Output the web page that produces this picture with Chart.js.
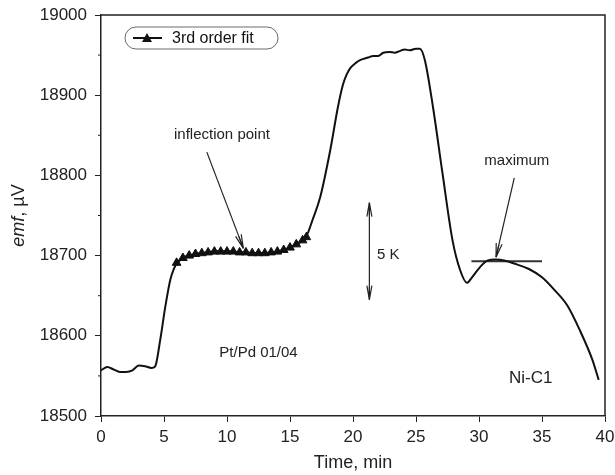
<!DOCTYPE html>
<html>
<head>
<meta charset="utf-8">
<title>emf vs time</title>
<script src="https://cdn.jsdelivr.net/npm/chart.js@4"></script>
<style>
    body { margin: 0; background: #fff; }
    #wrap { width: 615px; height: 475px; }
</style>
</head>
<body>
<div id="wrap"><canvas id="emfChart" width="615" height="475"></canvas></div>
<script>
/* ==========================================
   Data
   ========================================== */

// measured curve
const timeMin = [0, 0.5, 1, 1.5, 2, 2.5, 3, 3.5, 4, 4.3, 4.7, 5.1, 5.5, 5.8, 6, 6.5, 7, 8, 9, 10, 11, 12, 13, 14, 15, 15.5, 16, 16.3, 16.8, 17.4, 18.2, 18.8, 19.2, 19.5, 19.8, 20.2, 20.6, 21.2, 21.6, 22, 22.4, 22.9, 23.3, 23.7, 24.1, 24.5, 25, 25.3, 25.7, 26.35, 27.1, 27.9, 28.5, 29.05, 29.4, 30.1, 30.7, 31.3, 32, 33, 34, 35, 36, 37, 38, 39, 39.5];
const emfMicroV = [18557, 18561, 18558, 18555, 18555, 18557, 18563, 18562, 18560, 18562, 18595, 18636, 18670, 18684, 18690, 18697, 18700, 18703, 18705, 18705, 18704, 18703, 18703, 18705, 18710, 18714, 18719, 18724, 18745, 18773, 18832, 18885, 18913, 18926, 18934, 18940, 18944, 18947, 18949, 18949, 18953, 18954, 18953, 18955, 18957, 18956, 18958, 18958, 18944, 18885, 18803, 18719, 18682, 18666, 18672, 18686, 18694, 18695, 18694, 18689, 18683, 18673, 18657, 18638, 18607, 18570, 18545];

// 3rd order fit (markers)
const fitTime = [6, 6.5, 7, 7.5, 8, 8.5, 9, 9.5, 10, 10.5, 11, 11.5, 12, 12.5, 13, 13.5, 14, 14.5, 15, 15.5, 16, 16.3];
const fitEmf = [18691, 18697, 18700, 18702, 18703, 18704, 18705, 18705, 18705, 18705, 18704, 18704, 18703, 18703, 18703, 18704, 18705, 18707, 18710, 18714, 18719, 18723];

// tangent at the maximum
const tangentTime = [29.4, 35];
const tangentEmf = [18693, 18693];

// axes
const xTicks = [0, 5, 10, 15, 20, 25, 30, 35, 40];
const yTicks = [18500, 18600, 18700, 18800, 18900, 19000];
const yMinorTicks = [18550, 18650, 18750, 18850, 18950];

const FONT = "'Liberation Sans', Arial, sans-serif";

// build {x,y} pairs
function pairs(xs, ys) {
    return xs.map((x, i) => ({ x: x, y: ys[i] }));
}

/* ==========================================
   Annotations (in data units)
   ========================================== */

function arrowHead(ctx, x1, y1, x2, y2, len, half) {
    const a = Math.atan2(y2 - y1, x2 - x1);
    ctx.beginPath();
    ctx.moveTo(x2, y2);
    ctx.lineTo(x2 - len * Math.cos(a) + half * Math.sin(a), y2 - len * Math.sin(a) - half * Math.cos(a));
    ctx.moveTo(x2, y2);
    ctx.lineTo(x2 - len * Math.cos(a) - half * Math.sin(a), y2 - len * Math.sin(a) + half * Math.cos(a));
    ctx.moveTo(x2, y2);
    ctx.lineTo(x2 - len * 0.9 * Math.cos(a), y2 - len * 0.9 * Math.sin(a));
    ctx.stroke();
}

const annotatePlugin = {
    id: "annotate",
    afterDraw(chart) {
        const ctx = chart.ctx;
        const xs = chart.scales.x;
        const ys = chart.scales.y;
        const area = chart.chartArea;
        const px = v => xs.getPixelForValue(v);
        const py = v => ys.getPixelForValue(v);

        ctx.save();
        ctx.strokeStyle = "#222";
        ctx.fillStyle = "#222";

        // frame (top + right)
        ctx.lineWidth = 1.5;
        ctx.beginPath();
        ctx.moveTo(area.left, area.top);
        ctx.lineTo(area.right, area.top);
        ctx.lineTo(area.right, area.bottom);
        ctx.stroke();

        // minor y ticks
        ctx.lineWidth = 1;
        yMinorTicks.forEach(v => {
            ctx.beginPath();
            ctx.moveTo(area.left - 3, py(v));
            ctx.lineTo(area.left, py(v));
            ctx.stroke();
        });

        // texts
        ctx.font = "15px " + FONT;
        ctx.textAlign = "center";
        ctx.textBaseline = "middle";
        ctx.fillText("inflection point", px(9.6), py(18850));
        ctx.fillText("maximum", px(33.0), py(18818));
        ctx.fillText("Pt/Pd 01/04", px(12.5), py(18579));
        ctx.textAlign = "left";
        ctx.fillText("5 K", px(21.9), py(18701));
        ctx.font = "17px " + FONT;
        ctx.textAlign = "center";
        ctx.fillText("Ni-C1", px(34.1), py(18547));

        // arrows
        ctx.lineWidth = 1.2;
        let x1 = px(8.4), y1 = py(18829), x2 = px(11.3), y2 = py(18709);
        ctx.beginPath(); ctx.moveTo(x1, y1); ctx.lineTo(x2, y2); ctx.stroke();
        arrowHead(ctx, x1, y1, x2, y2, 14, 3);

        x1 = px(32.8); y1 = py(18797); x2 = px(31.35); y2 = py(18698);
        ctx.beginPath(); ctx.moveTo(x1, y1); ctx.lineTo(x2, y2); ctx.stroke();
        arrowHead(ctx, x1, y1, x2, y2, 14, 3);

        // 5 K double arrow
        x1 = px(21.3); y1 = py(18766); y2 = py(18645);
        ctx.beginPath(); ctx.moveTo(x1, y1); ctx.lineTo(x1, y2); ctx.stroke();
        arrowHead(ctx, x1, y2, x1, y1, 14, 2.5);
        arrowHead(ctx, x1, y1, x1, y2, 14, 2.5);

        // legend box
        const lx = 125, ly = 27, lw = 153, lh = 22;
        ctx.lineWidth = 0.8;
        ctx.strokeStyle = "#444";
        ctx.beginPath();
        ctx.roundRect(lx, ly, lw, lh, 11);
        ctx.stroke();
        ctx.strokeStyle = "#111";
        ctx.lineWidth = 2;
        ctx.beginPath();
        ctx.moveTo(lx + 8, ly + lh / 2);
        ctx.lineTo(lx + 37, ly + lh / 2);
        ctx.stroke();
        ctx.fillStyle = "#111";
        ctx.beginPath();
        ctx.moveTo(lx + 22, ly + lh / 2 - 5);
        ctx.lineTo(lx + 27, ly + lh / 2 + 4);
        ctx.lineTo(lx + 17, ly + lh / 2 + 4);
        ctx.closePath();
        ctx.fill();
        ctx.font = "16px " + FONT;
        ctx.textAlign = "left";
        ctx.fillText("3rd order fit", lx + 47, ly + lh / 2 + 1);

        // axis titles
        ctx.fillStyle = "#222";
        ctx.font = "18px " + FONT;
        ctx.textAlign = "center";
        ctx.fillText("Time, min", (area.left + area.right) / 2, 463);

        ctx.translate(19, (area.top + area.bottom) / 2);
        ctx.rotate(-Math.PI / 2);
        const partA = "emf";
        const partB = ", \u00B5V";
        ctx.font = "italic 18px " + FONT;
        const wA = ctx.measureText(partA).width;
        ctx.font = "18px " + FONT;
        const wB = ctx.measureText(partB).width;
        ctx.textAlign = "left";
        ctx.font = "italic 18px " + FONT;
        ctx.fillText(partA, -(wA + wB) / 2, 0);
        ctx.font = "18px " + FONT;
        ctx.fillText(partB, -(wA + wB) / 2 + wA, 0);

        ctx.restore();
    }
};

/* ==========================================
   Chart
   ========================================== */

const emfChart = new Chart(document.getElementById("emfChart"), {
    type: "line",
    data: {
        datasets: [
            {
                label: "emf",
                data: pairs(timeMin, emfMicroV),
                borderColor: "#111",
                borderWidth: 2,
                pointRadius: 0,
                fill: false,
                cubicInterpolationMode: "monotone"
            },
            {
                label: "3rd order fit",
                data: pairs(fitTime, fitEmf),
                borderColor: "#111",
                borderWidth: 2,
                pointStyle: "triangle",
                pointRadius: 5,
                pointBackgroundColor: "#111",
                pointBorderColor: "#111",
                pointBorderWidth: 1,
                fill: false,
                cubicInterpolationMode: "monotone"
            },
            {
                label: "tangent",
                data: pairs(tangentTime, tangentEmf),
                borderColor: "#333",
                borderWidth: 2,
                pointRadius: 0,
                fill: false
            }
        ]
    },
    options: {
        responsive: false,
        animation: false,
        layout: {
            padding: { left: 0, right: 10, top: 15, bottom: 0 }
        },
        plugins: {
            legend: { display: false },
            tooltip: { enabled: false }
        },
        scales: {
            x: {
                type: "linear",
                min: 0,
                max: 40,
                afterBuildTicks: s => { s.ticks = xTicks.map(v => ({ value: v })); },
                afterFit: s => {
                    s.height = 59;
                    s.paddingLeft = 0;
                    s.paddingRight = 0;
                },
                ticks: {
                    color: "#222",
                    padding: 5,
                    maxRotation: 0,
                    font: { family: FONT, size: 17 }
                },
                grid: {
                    drawOnChartArea: false,
                    drawTicks: true,
                    tickLength: 6,
                    tickColor: "#222",
                    tickWidth: 1
                },
                border: { display: true, color: "#222", width: 1.5 }
            },
            y: {
                type: "linear",
                min: 18500,
                max: 19000,
                afterBuildTicks: s => { s.ticks = yTicks.map(v => ({ value: v })); },
                afterFit: s => {
                    s.width = 101;
                    s.paddingTop = 0;
                    s.paddingBottom = 0;
                },
                ticks: {
                    color: "#222",
                    padding: 8,
                    font: { family: FONT, size: 17 },
                    callback: v => String(v)
                },
                grid: {
                    drawOnChartArea: false,
                    drawTicks: true,
                    tickLength: 6,
                    tickColor: "#222",
                    tickWidth: 1
                },
                border: { display: true, color: "#222", width: 1.5 }
            }
        }
    },
    plugins: [annotatePlugin]
});
</script>
</body>
</html>
